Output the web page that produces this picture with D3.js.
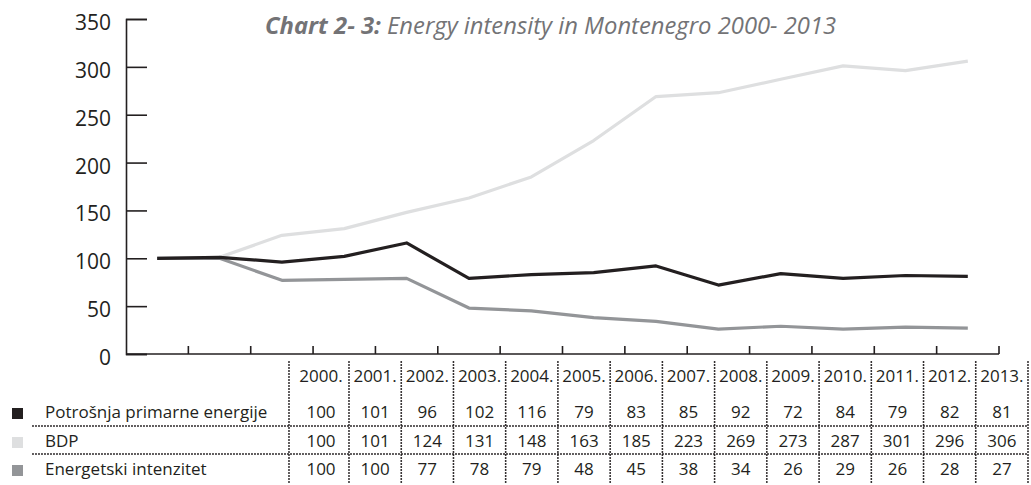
<!DOCTYPE html>
<html lang="en">
<head>
    <meta charset="UTF-8">
    <title>Energy intensity in Montenegro</title>
    <script src="https://d3js.org/d3.v7.min.js"></script>
    <style>
        body { margin: 0; background: #fff; }
        svg { display: block; font-family: "Open Sans", sans-serif; }
    </style>
</head>
<body>
    <svg id="chart" width="1031" height="485"></svg>
    <script>
        // Daten
        var years = ['2000.', '2001.', '2002.', '2003.', '2004.', '2005.', '2006.', '2007.', '2008.', '2009.', '2010.', '2011.', '2012.', '2013.'];
        var potrosnja = [100, 101, 96, 102, 116, 79, 83, 85, 92, 72, 84, 79, 82, 81];
        var bdp = [100, 101, 124, 131, 148, 163, 185, 223, 269, 273, 287, 301, 296, 306];
        var intenzitet = [100, 100, 77, 78, 79, 48, 45, 38, 34, 26, 29, 26, 28, 27];
        var seriesNames = ['Potrošnja primarne energije', 'BDP', 'Energetski intenzitet'];
        var yTicks = [0, 50, 100, 150, 200, 250, 300, 350];

        var seriesValues = [potrosnja, bdp, intenzitet];
        var seriesColors = ['#231f20', '#dedfe0', '#939598'];
        var ink = '#231f20';

        var svg = d3.select('#chart');

        // Skalen
        var x = d3.scaleBand().domain(years).range([126, 999]);
        var y = d3.scaleLinear().domain([0, 350]).range([354, 19]);

        // Titel
        var title = svg.append('text')
            .attr('x', 265).attr('y', 34)
            .attr('fill', '#737376')
            .attr('font-size', 23.8)
            .attr('font-style', 'italic');
        title.append('tspan').attr('font-weight', 700).text('Chart 2- 3:');
        title.append('tspan').text(' Energy intensity in Montenegro 2000- 2013');

        // Y-Achse
        var yAxis = d3.axisRight(y).tickValues(yTicks).tickSize(21).tickFormat('');
        var gy = svg.append('g').attr('transform', 'translate(126,0)').call(yAxis);
        gy.select('.domain').attr('stroke', ink).attr('stroke-width', 1.6);
        gy.selectAll('.tick line').attr('stroke', ink).attr('stroke-width', 1.6);

        svg.append('g').selectAll('text')
            .data(yTicks)
            .join('text')
            .attr('x', 111)
            .attr('y', d => y(d) + 11)
            .attr('text-anchor', 'end')
            .attr('font-size', 21)
            .attr('fill', ink)
            .text(d => d);

        // X-Achse: Striche an den Bandgrenzen, nach oben
        var bounds = years.map((d, i) => x(d) + x.bandwidth());
        var gx = svg.append('g');
        gx.append('line')
            .attr('x1', 126).attr('x2', 999)
            .attr('y1', y(0)).attr('y2', y(0))
            .attr('stroke', ink).attr('stroke-width', 1.6);
        gx.selectAll('line.tick')
            .data(bounds)
            .join('line')
            .attr('class', 'tick')
            .attr('x1', d => d).attr('x2', d => d)
            .attr('y1', y(0)).attr('y2', y(0) - 8)
            .attr('stroke', ink).attr('stroke-width', 1.6);

        // Linien
        var line = d3.line()
            .x((d, i) => x(years[i]) + x.bandwidth() / 2)
            .y(d => y(d));

        [1, 2, 0].forEach(function(s) {
            svg.append('path')
                .datum(seriesValues[s])
                .attr('d', line)
                .attr('fill', 'none')
                .attr('stroke', seriesColors[s])
                .attr('stroke-width', 3.2)
                .attr('stroke-linejoin', 'round');
        });

        // Tabelle
        var firstCol = 60;
        var tx = d3.scaleBand().domain(years.slice(1)).range([289 + firstCol, 1028]);
        function colCenter(i) {
            return i === 0 ? 289 + firstCol / 2 + 2 : tx(years[i]) + tx.bandwidth() / 2;
        }
        var colEdges = [289].concat(years.slice(1).map(d => tx(d))).concat([1028]);
        var rowBaselines = [418, 447, 475];

        // gepunktete Linien: runde Punkte
        function dots(sel) {
            sel.attr('stroke', ink)
                .attr('stroke-width', 1.9)
                .attr('stroke-linecap', 'round')
                .attr('stroke-dasharray', '0,3');
        }

        var table = svg.append('g');
        table.selectAll('line.v')
            .data(colEdges)
            .join('line')
            .attr('x1', d => d).attr('x2', d => d)
            .attr('y1', 362).attr('y2', 485)
            .call(dots);

        table.selectAll('line.h')
            .data([426, 454])
            .join('line')
            .attr('x1', 33).attr('x2', 1028)
            .attr('y1', d => d).attr('y2', d => d)
            .call(dots);

        // Kopfzeile mit Jahren
        table.selectAll('text.year')
            .data(years)
            .join('text')
            .attr('x', (d, i) => colCenter(i))
            .attr('y', 382)
            .attr('text-anchor', 'middle')
            .attr('font-size', 17)
            .attr('fill', ink)
            .text(d => d);

        // Zeilen mit Legende
        seriesNames.forEach(function(name, r) {
            table.append('rect')
                .attr('x', 12).attr('y', rowBaselines[r] - 10)
                .attr('width', 11).attr('height', 11)
                .attr('fill', seriesColors[r]);
            table.append('text')
                .attr('x', 45).attr('y', rowBaselines[r])
                .attr('font-size', 17)
                .attr('fill', ink)
                .text(name);
            table.selectAll('text.v' + r)
                .data(seriesValues[r])
                .join('text')
                .attr('x', (d, i) => colCenter(i))
                .attr('y', rowBaselines[r])
                .attr('text-anchor', 'middle')
                .attr('font-size', 17)
                .attr('fill', ink)
                .text(d => d);
        });
    </script>
</body>
</html>
